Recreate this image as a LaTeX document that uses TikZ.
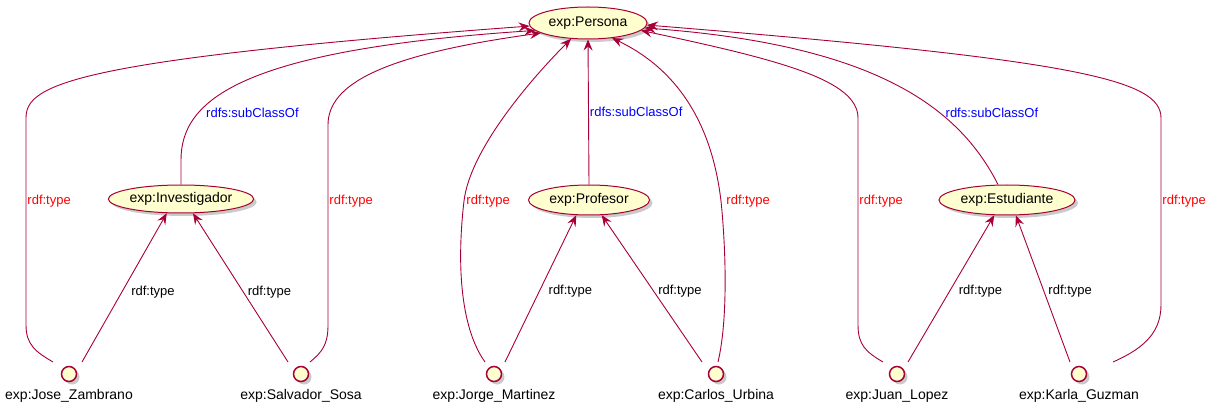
\documentclass[tikz,border=0pt]{standalone}
\usepackage{fontspec}
\setmainfont{Liberation Sans}
\usepackage{tikz}
\usetikzlibrary{shapes.geometric,arrows.meta,shadows,positioning}
\definecolor{umlborder}{RGB}{168,0,54}
\definecolor{umlfill}{RGB}{254,254,206}

\begin{document}
\begin{tikzpicture}[x=1pt, y=-1pt,
  umlshadow/.style={drop shadow={shadow xshift=3pt, shadow yshift=-3pt, fill=black!60, opacity=0.35}},
  cls/.style={ellipse, draw=umlborder, line width=1pt, fill=umlfill, inner sep=0pt, font=\fontsize{14}{16}\selectfont, umlshadow},
  obj/.style={circle, draw=umlborder, line width=1.5pt, fill=umlfill, minimum size=15pt, inner sep=0pt, umlshadow},
  objtxt/.style={font=\fontsize{14}{16}\selectfont, inner sep=1pt},
  rel/.style={draw=umlborder, line width=0.9pt, -{Stealth[length=11pt,width=9pt,inset=4pt]}},
  lbl/.style={font=\fontsize{13}{15}\selectfont, inner sep=1pt},
  typelbl/.style={lbl, text=red},
  subclbl/.style={lbl, text=blue}
]
\useasboundingbox (0,0) rectangle (1226,414);

% Classes
\node[cls, minimum width=118pt, minimum height=32pt] (persona) at (588,23) {exp:Persona};
\node[cls, minimum width=142pt, minimum height=28pt] (inv) at (181,199) {exp:Investigador};
\node[cls, minimum width=121pt, minimum height=30pt] (prof) at (589,200) {exp:Profesor};
\node[cls, minimum width=136pt, minimum height=30pt] (est) at (1007,200) {exp:Estudiante};

% Individuals
\node[obj] (jose) at (69,374) {};
\node[obj] (sal) at (301,374) {};
\node[obj] (jorge) at (494,374) {};
\node[obj] (carlos) at (716,374) {};
\node[obj] (juan) at (897,374) {};
\node[obj] (karla) at (1079,374) {};
\node[objtxt, below=6pt of jose] (josetxt) {exp:Jose\_Zambrano};
\node[objtxt, below=6pt of sal] (saltxt) {exp:Salvador\_Sosa};
\node[objtxt, below=6pt of jorge] (jorgetxt) {exp:Jorge\_Martinez};
\node[objtxt, below=6pt of carlos] (carlostxt) {exp:Carlos\_Urbina};
\node[objtxt, below=6pt of juan] (juantxt) {exp:Juan\_Lopez};
\node[objtxt, below=6pt of karla] (karlatxt) {exp:Karla\_Guzman};

% subClassOf
\draw[rel] (inv.north) -- (181,160) .. controls (181,100) and (240,50) .. (persona.188) node[subclbl, pos=0.28, right, xshift=6pt] {rdfs:subClassOf};
\draw[rel] (prof.north) -- (persona.south) node[subclbl, midway, right] {rdfs:subClassOf};
\draw[rel] ([xshift=-9pt]est.north) .. controls (960,110) and (880,45) .. (persona.355) node[subclbl, pos=0.34, right, xshift=4pt] {rdfs:subClassOf};

% rdf:type up to Persona
\draw[rel] ([xshift=-16pt,yshift=12pt]jose.center) .. controls (36,352) and (26,345) .. (26,325) -- (26,118) node[typelbl, pos=0.6, right] {rdf:type} .. controls (26,85) and (70,60) .. (persona.183);
\draw[rel] ([xshift=9pt,yshift=12pt]sal.center) .. controls (322,352) and (328,345) .. (328,325) -- (328,125) node[typelbl, pos=0.62, right] {rdf:type} .. controls (328,85) and (380,55) .. (persona.192);
\draw[rel] ([xshift=-9pt,yshift=12pt]jorge.center) .. controls (462,330) and (456,270) .. (464,201) node[typelbl, right, xshift=1pt] {rdf:type} .. controls (470,150) and (530,80) .. (persona.223);
\draw[rel] ([xshift=2pt,yshift=12pt]carlos.center) .. controls (728,320) and (726,250) .. (721,201) node[typelbl, right, xshift=4pt] {rdf:type} .. controls (716,160) and (700,80) .. (persona.328);
\draw[rel] ([xshift=-14pt,yshift=12pt]juan.center) .. controls (866,352) and (858,345) .. (858,325) -- (858,118) node[typelbl, pos=0.6, right] {rdf:type} .. controls (858,80) and (780,60) .. (persona.352);
\draw[rel] ([xshift=34pt,yshift=12pt]karla.center) .. controls (1140,350) and (1161,335) .. (1161,305) -- (1161,118) node[typelbl, pos=0.556, right] {rdf:type} .. controls (1161,80) and (1080,60) .. (persona.358);

% rdf:type up to the subclasses
\draw[rel] ([xshift=13pt,yshift=12pt]jose.center) -- (inv.225) node[lbl, pos=0.47, right, xshift=8pt] {rdf:type};
\draw[rel] ([xshift=-13pt,yshift=12pt]sal.center) -- (inv.310) node[lbl, pos=0.47, right, xshift=3pt] {rdf:type};
\draw[rel] ([xshift=11pt,yshift=12pt]jorge.center) -- (prof.230) node[lbl, pos=0.48, right, xshift=8pt] {rdf:type};
\draw[rel] ([xshift=-14pt,yshift=12pt]carlos.center) -- (prof.310) node[lbl, pos=0.48, right, xshift=3pt] {rdf:type};
\draw[rel] ([xshift=11pt,yshift=12pt]juan.center) -- (est.230) node[lbl, pos=0.48, right, xshift=8pt] {rdf:type};
\draw[rel] ([xshift=-9pt,yshift=12pt]karla.center) -- (est.300) node[lbl, pos=0.48, right, xshift=3pt] {rdf:type};

\end{tikzpicture}
\end{document}
